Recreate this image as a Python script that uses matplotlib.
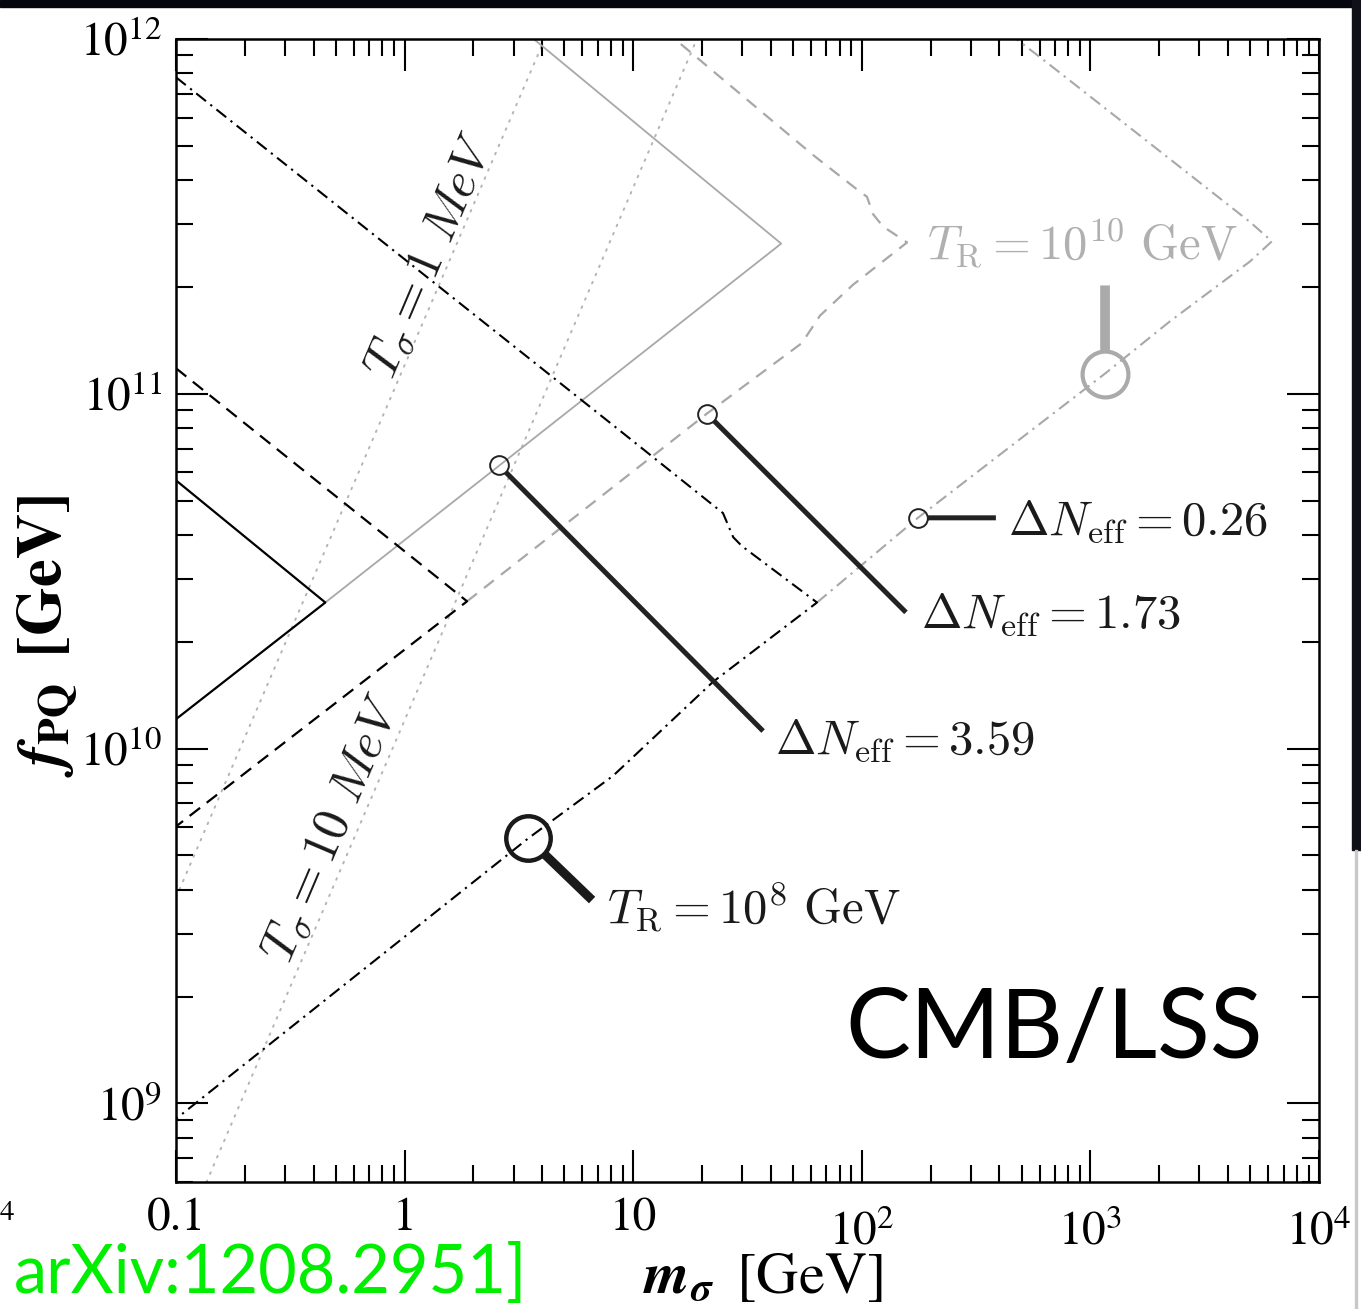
import matplotlib
matplotlib.use('Agg')
import matplotlib.pyplot as plt
from matplotlib.patches import Rectangle
from matplotlib.ticker import LogLocator, NullFormatter

plt.rcParams['font.family'] = 'STIXGeneral'
plt.rcParams['mathtext.fontset'] = 'stix'
plt.rcParams['lines.scale_dashes'] = False

# --- data (m_sigma in GeV, f_PQ in GeV) ---
# black solid wedge and its grey continuation
blk_solid_m = [0.1, 0.45, 0.1]
blk_solid_f = [5.7e10, 2.58e10, 1.21e10]
gry_solid_m = [0.45, 44.4, 3.67]
gry_solid_f = [2.58e10, 2.65e11, 1.0e12]

# black dashed wedge and grey dashed continuation
blk_dash_m = [0.1, 1.876, 0.1]
blk_dash_f = [1.18e11, 2.6e10, 6.03e9]
gry_dash_m = [1.876, 21.0, 54.7, 65.6, 91.6, 157.8, 123.9, 111.9, 105.4, 98.2, 61.2, 15.2]
gry_dash_f = [2.6e10, 8.79e10, 1.39e11, 1.66e11, 2.03e11, 2.67e11,
              2.96e11, 3.21e11, 3.59e11, 3.71e11, 4.71e11, 1.0e12]

# black dash-dot wedge and grey dash-dot continuation
blk_dd_m = [0.1, 8.75, 24.7, 27.4, 29.9, 63.7, 22.3, 8.17, 3.47, 0.1]
blk_dd_f = [7.8e11, 7.87e10, 4.61e10, 3.94e10, 3.72e10, 2.58e10,
            1.54e10, 8.38e9, 5.58e9, 9.04e8]
gry_dd_m = [63.7, 176, 1159, 2228, 4989, 6223, 4989, 621, 474]
gry_dd_f = [2.58e10, 4.47e10, 1.14e11, 1.6e11, 2.36e11, 2.69e11,
            3.05e11, 8.75e11, 1.0e12]

# T_sigma lines
tsig1_m = [0.1, 4.1]
tsig1_f = [3.8e9, 1.0e12]
tsig10_m = [0.136, 19.0]
tsig10_f = [6.0e8, 1.0e12]

# Delta N_eff markers: circle position, line end, label anchor
dn_labels = [r'$\Delta N_{\rm eff} = 3.59$', r'$\Delta N_{\rm eff} = 1.73$',
             r'$\Delta N_{\rm eff} = 0.26$']
dn_circ_m = [2.59, 21.0, 176]
dn_circ_f = [6.28e10, 8.79e10, 4.47e10]
dn_end_m = [37.0, 156, 386]
dn_end_f = [1.12e10, 2.42e10, 4.47e10]
dn_txt_m = [41.7, 181.6, 436]
dn_txt_f = [9.66e9, 2.19e10, 4.0e10]

# T_R markers
tr8_circ = (3.47, 5.58e9)
tr8_end = (6.61, 3.74e9)
tr8_txt = (7.67, 3.21e9)
tr10_circ = (1159, 1.14e11)
tr10_end = (1159, 2.02e11)
tr10_txt = (193, 2.39e11)

xtick_vals = [0.1, 1, 10, 100, 1000, 10000]
xtick_labels = ['0.1', '1', '10', '$10^{2}$', '$10^{3}$', '$10^{4}$']
ytick_vals = [1e9, 1e10, 1e11, 1e12]
ytick_labels = ['$10^{9}$', '$10^{10}$', '$10^{11}$', '$10^{12}$']

W, H = 1361, 1309
fig = plt.figure(figsize=(W / 100, H / 100), dpi=100)
ax = fig.add_axes([176 / W, 1 - 1182 / H, 1143 / W, 1143 / H])
ax.set_xscale('log')
ax.set_yscale('log')
ax.set_xlim(0.1, 1e4)
ax.set_ylim(6.0e8, 1.0e12)

grey = '#a8a8a8'
dd = (0, (9, 4, 1.6, 4))

ax.plot(tsig1_m, tsig1_f, color='#b4b4b4', lw=1.4, ls=(0, (1.2, 5.2)), dash_capstyle='round', zorder=1)
ax.plot(tsig10_m, tsig10_f, color='#b4b4b4', lw=1.4, ls=(0, (1.2, 5.2)), dash_capstyle='round', zorder=1)

ax.plot(gry_solid_m, gry_solid_f, color=grey, lw=1.3, zorder=2)
ax.plot(gry_dash_m, gry_dash_f, color=grey, lw=1.6, ls=(0, (9, 6.5)), zorder=2)
ax.plot(gry_dd_m, gry_dd_f, color=grey, lw=1.5, ls=dd, zorder=2)

ax.plot(blk_solid_m, blk_solid_f, color='black', lw=1.6, zorder=3)
ax.plot(blk_dash_m, blk_dash_f, color='black', lw=1.6, ls=(0, (9.5, 6)), zorder=3)
ax.plot(blk_dd_m, blk_dd_f, color='black', lw=1.5, ls=dd, zorder=3)

lab_kw = dict(fontsize=35, math_fontfamily='cm')
for lab, cm_, cf, em, ef, tm, tf in zip(dn_labels, dn_circ_m, dn_circ_f, dn_end_m,
                                          dn_end_f, dn_txt_m, dn_txt_f):
    ax.annotate('', xy=(cm_, cf), xytext=(em, ef),
                arrowprops=dict(arrowstyle='-', color='#222222', lw=3.6,
                                shrinkA=0, shrinkB=7, capstyle='butt'), zorder=4)
    ax.plot([cm_], [cf], marker='o', ms=13.5, mfc='none', mec='#222222', mew=1.4, zorder=5)
    ax.text(tm, tf, lab, ha='left', va='baseline', color='#1a1a1a', **lab_kw)

ax.annotate('', xy=tr8_circ, xytext=tr8_end,
            arrowprops=dict(arrowstyle='-', color='#1a1a1a', lw=6.5,
                            shrinkA=0, shrinkB=16, capstyle='butt'), zorder=4)
ax.plot([tr8_circ[0]], [tr8_circ[1]], marker='o', ms=32, mfc='none', mec='#1a1a1a', mew=3.2, zorder=5)
ax.text(tr8_txt[0], tr8_txt[1], r'$T_{\rm R} = 10^8\ {\rm GeV}$', ha='left', va='baseline',
        color='#1a1a1a', **lab_kw)

ax.annotate('', xy=tr10_circ, xytext=tr10_end,
            arrowprops=dict(arrowstyle='-', color='#aaaaaa', lw=7,
                            shrinkA=0, shrinkB=16.5, capstyle='butt'), zorder=4)
ax.plot([tr10_circ[0]], [tr10_circ[1]], marker='o', ms=33, mfc='none', mec='#aaaaaa', mew=3, zorder=5)
ax.text(tr10_txt[0], tr10_txt[1], r'$T_{\rm R} = 10^{10}\ {\rm GeV}$', ha='left', va='baseline',
        color='#b0b0b0', **lab_kw)

ax.text(1.31, 2.45e11, r'$T_\sigma = \mathit{1\ MeV}$', rotation=66.9, rotation_mode='anchor',
        ha='center', va='center', fontsize=36, math_fontfamily='cm', color='#1a1a1a')
ax.text(0.486, 5.95e9, r'$T_\sigma = \mathit{10\ MeV}$', rotation=66.9, rotation_mode='anchor',
        ha='center', va='center', fontsize=36, math_fontfamily='cm', color='#1a1a1a')

# axes styling
ax.set_xticks(xtick_vals)
ax.set_yticks(ytick_vals)
ax.set_yticklabels(ytick_labels)
ax.xaxis.set_minor_locator(LogLocator(base=10, subs=range(2, 10), numticks=20))
ax.yaxis.set_minor_locator(LogLocator(base=10, subs=range(2, 10), numticks=20))
ax.xaxis.set_minor_formatter(NullFormatter())
ax.yaxis.set_minor_formatter(NullFormatter())
ax.tick_params(which='both', direction='in', top=True, right=True, width=1.5, labelsize=34)
ax.tick_params(which='major', length=23)
ax.tick_params(which='minor', length=12)
ax.tick_params(axis='x', labelbottom=False)
ax.tick_params(axis='y', pad=10)
for s in ax.spines.values():
    s.set_linewidth(1.8)

# x tick labels: powers of ten sit lower, like in the original
xt = ax.get_xaxis_transform()
for v, lab in zip(xtick_vals, xtick_labels):
    yy = -0.0551 if '^' in lab else -0.0420
    ax.text(v, yy, lab, transform=xt, ha='center', va='baseline', fontsize=34)

ax.set_xlabel(r'$\mathbfit{m}_{\mathbfit{\sigma}}\;\;[\mathrm{GeV}]$', fontsize=42)
ax.xaxis.set_label_coords(0.513, -0.0972)
ax.xaxis.label.set_va('baseline')
ax.set_ylabel(r'$\mathbfit{f}_{\mathbf{PQ}}\;\;\mathbf{[GeV]}$', fontsize=45)
ax.yaxis.set_label_coords(-0.112, 0.478)
ax.yaxis.label.set_va('center')

# slide decorations
fig.patches.append(Rectangle((0, 1 - 7 / H), 1, 7 / H, transform=fig.transFigure,
                             color='#05050f', zorder=10))
fig.patches.append(Rectangle((1352 / W, 1 - 850 / H), 9 / W, 850 / H, transform=fig.transFigure,
                             color='#101018', zorder=10))
fig.patches.append(Rectangle((1355 / W, 0), 1.5 / W, 1 - 850 / H, transform=fig.transFigure,
                             color='#c8c8c8', zorder=10))
fig.text(845 / W, 1 - 1058 / H, 'CMB/LSS', fontsize=70, family='Lato', ha='left', va='baseline')
fig.text(14 / W, 1 - 1293 / H, 'arXiv:1208.2951]', fontsize=48, family='Lato', color='#00ee00',
         ha='left', va='baseline')
fig.text(0, 1 - 1220 / H, '4', fontsize=21, ha='left', va='baseline')

fig.savefig('out.png', dpi=100)
